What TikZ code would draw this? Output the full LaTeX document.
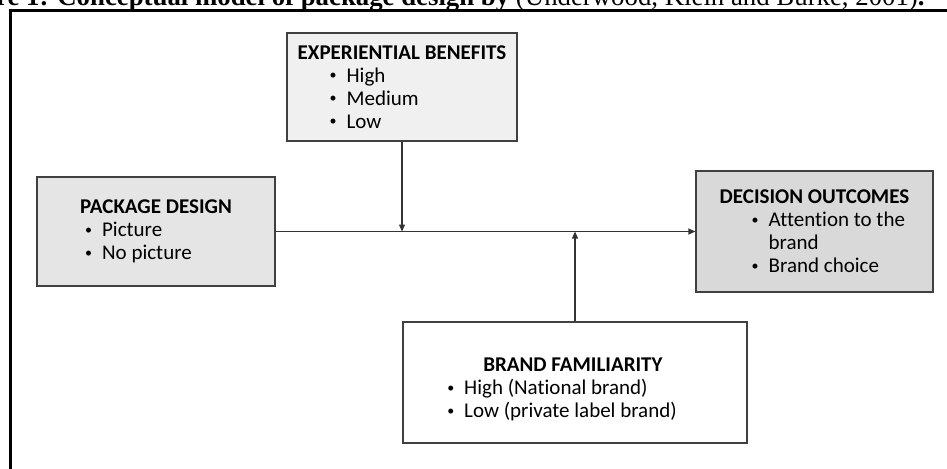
\documentclass[tikz,border=0pt]{standalone}
\usepackage{fontspec}
\setmainfont{Carlito}[Ligatures=NoCommon]
\newfontfamily\capfont{Liberation Serif}
\usetikzlibrary{arrows.meta}
\newcommand{\dotb}{\raisebox{1.3pt}{\fontsize{7}{7}\selectfont\textbullet}}
\newcommand{\itm}[1]{\dotb\hspace{5pt}#1}
\newcommand{\itmgap}{\phantom{\dotb}\hspace{5pt}}

\begin{document}
\begin{tikzpicture}[x=0.5pt,y=-0.5pt,->,>={Triangle[length=3.5pt,width=3pt]},
        box/.style={draw=black!75,line width=0.6pt,align=left,
            font=\fontsize{10.5}{11.5}\selectfont},
        link/.style={line width=0.6pt,draw=black!80},
        frame/.style={-,line width=1.5pt}]
    \useasboundingbox (0,0) rectangle (947,468);
    \clip (0,0) rectangle (947,468);
    % caption, cut at the top
    \node[anchor=base east,inner sep=0pt,font=\capfont\fontsize{13.4}{16}\selectfont](cap) at (925,5)
        {\textbf{Figure 1: Conceptual model of package design by} (Underwood, Klein and Burke, 2001)\textbf{.}};
    \draw[frame] (10.5,470) -- (10.5,10.5) -- (950,10.5);
    % boxes
    \node[box,fill=black!6,minimum width=115pt,minimum height=54pt](ben) at (402,87)
        {\textbf{EXPERIENTIAL BENEFITS}\\
         \hspace*{16pt}\itm{High}\\
         \hspace*{16pt}\itm{Medium}\\
         \hspace*{16pt}\itm{Low}};
    \node[box,fill=black!10,minimum width=119pt,minimum height=54.5pt](pkg) at (156,231.5)
        {\textbf{PACKAGE DESIGN}\\
         \hspace*{2.5pt}\itm{Picture}\\
         \hspace*{2.5pt}\itm{No picture}};
    \node[box,fill=black!15,minimum width=118.5pt,minimum height=60.5pt](dec) at (814.5,231.5)
        {\textbf{DECISION OUTCOMES}\\
         \hspace*{16pt}\itm{Attention to the}\\
         \hspace*{16pt}\itmgap brand\\
         \hspace*{16pt}\itm{Brand choice}};
    \node[box,fill=white,minimum width=172pt,minimum height=60.5pt](fam) at (575,382.5)
        {\rule{0pt}{14pt}\hspace*{18pt}\textbf{BRAND FAMILIARITY}\\
         \itm{High (National brand)}\\
         \itm{Low (private label brand)}\hspace*{13pt}};
    % connectors
    \coordinate (benhit) at (ben.south |- pkg.east);
    \coordinate (famhit) at (fam.north |- pkg.east);
    \draw[link] (pkg.east) -- (dec.west);
    \draw[link] (ben.south) -- (benhit);
    \draw[link] (fam.north) -- (famhit);
\end{tikzpicture}
\end{document}
